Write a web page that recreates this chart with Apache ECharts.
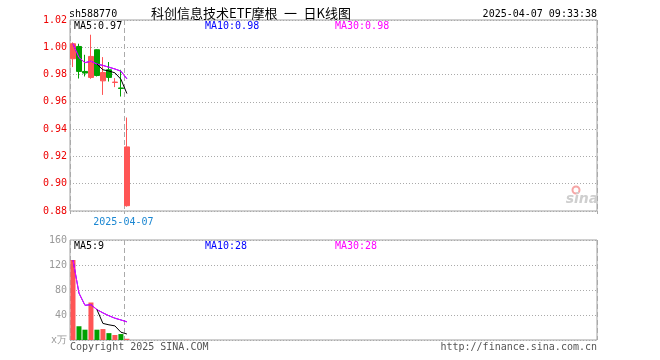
<!DOCTYPE html>
<html>
<head>
<meta charset="utf-8">
<script src="https://cdn.jsdelivr.net/npm/echarts@6/dist/echarts.min.js"></script>
<style>html,body{margin:0;padding:0;background:#fff;}#c{width:660px;height:360px;}</style>
</head>
<body>
<div id="c"></div>
<script>
// ---- data ----
const dates = ['2025-03-24','2025-03-25','2025-03-26','2025-03-27','2025-03-28','2025-03-31','2025-04-01','2025-04-02','2025-04-03','2025-04-07'];
const opens  = [0.9916, 1.0006, 0.9823, 0.9779, 0.9982, 0.9754, 0.9835, 0.9742, 0.9702, 0.8839];
const closes = [1.0026, 0.9823, 0.9811, 0.9933, 0.9793, 0.9815, 0.9779, 0.9745, 0.9698, 0.9270];
const lows   = [0.9855, 0.9771, 0.9786, 0.9769, 0.9786, 0.9651, 0.9749, 0.9708, 0.9639, 0.8832];
const highs  = [1.0036, 1.0026, 0.9945, 1.0092, 0.9985, 0.9928, 0.9892, 0.9774, 0.9835, 0.9485];
const volumes = [128, 22, 16.5, 60, 16.5, 17.5, 11, 8, 9.5, 2];
const priceMA5  = ['-','-','-','-',0.9877,0.9835,0.9826,0.9813,0.9766,0.9661];
const priceMA10 = [1.0026,0.9925,0.9887,0.9898,0.9877,0.9867,0.9854,0.9841,0.9825,0.9769];
const priceMA30 = [1.0026,0.9925,0.9887,0.9898,0.9877,0.9867,0.9854,0.9841,0.9825,0.9769];
const volMA5  = ['-','-','-','-',48.6,26.5,24.3,22.6,12.5,9.6];
const volMA10 = [128,75,55.5,56.6,48.6,43.4,38.8,34.9,32.1,29.1];
const volMA30 = [128,75,55.5,56.6,48.6,43.4,38.8,34.9,32.1,29.1];
const priceTicks = [0.88, 0.90, 0.92, 0.94, 0.96, 0.98, 1.00, 1.02];
const volTicks = [0, 40, 80, 120, 160];
const volZeroLabel = 'x万';
const markIndex = 9;
const totalSlots = 88;

// ---- build ----
const cats = dates.slice();
for (let i = dates.length; i < totalSlots; i++) cats.push('slot' + i);
const kData = dates.map((d, i) => [opens[i], closes[i], lows[i], highs[i]]);
const UP = '#ff5555', DOWN = '#00a000';
const volData = volumes.map((v, i) => ({value: v, itemStyle: {color: closes[i] >= opens[i] ? UP : DOWN}}));
const MONO = '"DejaVu Sans Mono", monospace';
const GRIDC = '#a0a0a0';
// boundary lines: index 0 and markIndex (index 0 falls on the grid border)
const boundaryInterval = (i) => i === 0 || i === markIndex;

function xAxisCfg(gi, showLabel) {
  return {
    type: 'category', gridIndex: gi, data: cats, boundaryGap: true,
    axisLine: {show: false},
    axisTick: {show: showLabel, interval: boundaryInterval, length: 3, lineStyle: {color: '#aaa'}},
    axisLabel: {show: showLabel, interval: (i) => i === markIndex, color: '#1b87d2', fontFamily: MONO, fontSize: 10, margin: 6, padding: [0, 7, 0, 0]},
    splitLine: {show: true, interval: boundaryInterval, lineStyle: {color: '#aaa', type: [5, 3], width: 1}}
  };
}

const option = {
  animation: false,
  backgroundColor: '#fff',
  grid: [
    {left: 70, right: 63, top: 20, height: 191, show: true, borderColor: GRIDC, borderWidth: 1},
    {left: 70, right: 63, top: 240, height: 100, show: true, borderColor: GRIDC, borderWidth: 1}
  ],
  xAxis: [xAxisCfg(0, true), xAxisCfg(1, false)],
  yAxis: [
    {type: 'value', gridIndex: 0, min: priceTicks[0], max: priceTicks[priceTicks.length-1], interval: 0.02,
     axisLine: {show: false}, axisTick: {show: false},
     axisLabel: {color: '#ee0000', fontFamily: MONO, fontSize: 10, margin: 3, formatter: v => v.toFixed(2)},
     splitLine: {show: true, lineStyle: {color: '#aaa', type: [1, 2]}}},
    {type: 'value', gridIndex: 1, min: volTicks[0], max: volTicks[volTicks.length-1], interval: 40,
     axisLine: {show: false}, axisTick: {show: false},
     axisLabel: {color: '#999', fontFamily: MONO, fontSize: 10, margin: 3, formatter: v => v === 0 ? volZeroLabel : String(v)},
     splitLine: {show: true, lineStyle: {color: '#aaa', type: [1, 2]}}}
  ],
  series: [
    {type: 'candlestick', xAxisIndex: 0, yAxisIndex: 0, data: kData, barWidth: 5,
     itemStyle: {color: UP, color0: DOWN, borderColor: UP, borderColor0: DOWN, borderWidth: 1}},
    {type: 'line', xAxisIndex: 0, yAxisIndex: 0, data: priceMA10, symbol: 'none', lineStyle: {color: '#0000ff', width: 1}},
    {type: 'line', xAxisIndex: 0, yAxisIndex: 0, data: priceMA30, symbol: 'none', lineStyle: {color: '#ff00ff', width: 1}},
    {type: 'line', xAxisIndex: 0, yAxisIndex: 0, data: priceMA5, symbol: 'none', lineStyle: {color: '#000', width: 1}},
    {type: 'bar', xAxisIndex: 1, yAxisIndex: 1, data: volData, barWidth: 5},
    {type: 'line', xAxisIndex: 1, yAxisIndex: 1, data: volMA10, symbol: 'none', lineStyle: {color: '#0000ff', width: 1}},
    {type: 'line', xAxisIndex: 1, yAxisIndex: 1, data: volMA30, symbol: 'none', lineStyle: {color: '#ff00ff', width: 1}},
    {type: 'line', xAxisIndex: 1, yAxisIndex: 1, data: volMA5, symbol: 'none', lineStyle: {color: '#000', width: 1}}
  ],
  graphic: [
    {type: 'text', x: 69, y: 14, style: {text: 'sh588770', font: '10px ' + MONO, fill: '#000', verticalAlign: 'middle'}},
    {type: 'text', x: 151, y: 13, style: {text: '科创信息技术ETF摩根\u2002一\u2002日K线图', font: '13px "Noto Sans CJK SC"', fill: '#000', verticalAlign: 'middle'}},
    {type: 'text', x: 597, y: 14, style: {text: '2025-04-07 09:33:38', font: '10px ' + MONO, fill: '#000', align: 'right', verticalAlign: 'middle'}},
    {type: 'text', x: 74, y: 26, style: {text: 'MA5:0.97', font: '10px ' + MONO, fill: '#000', verticalAlign: 'middle'}},
    {type: 'text', x: 205, y: 26, style: {text: 'MA10:0.98', font: '10px ' + MONO, fill: '#0000ff', verticalAlign: 'middle'}},
    {type: 'text', x: 335, y: 26, style: {text: 'MA30:0.98', font: '10px ' + MONO, fill: '#ff00ff', verticalAlign: 'middle'}},
    {type: 'text', x: 74, y: 246, style: {text: 'MA5:9', font: '10px ' + MONO, fill: '#000', verticalAlign: 'middle'}},
    {type: 'text', x: 205, y: 246, style: {text: 'MA10:28', font: '10px ' + MONO, fill: '#0000ff', verticalAlign: 'middle'}},
    {type: 'text', x: 335, y: 246, style: {text: 'MA30:28', font: '10px ' + MONO, fill: '#ff00ff', verticalAlign: 'middle'}},
    {type: 'text', x: 70, y: 347, style: {text: 'Copyright 2025 SINA.COM', font: '10px ' + MONO, fill: '#555', verticalAlign: 'middle'}},
    {type: 'text', x: 597, y: 347, style: {text: 'http://finance.sina.com.cn', font: '10px ' + MONO, fill: '#555', align: 'right', verticalAlign: 'middle'}},
    {type: 'circle', shape: {cx: 576, cy: 190, r: 3.5}, style: {fill: 'none', stroke: '#f6a5a5', lineWidth: 2}},
    {type: 'text', x: 582, y: 199, style: {text: 'sina', font: 'italic bold 14px "DejaVu Sans"', fill: '#cfcfcf', align: 'center', verticalAlign: 'middle'}}
  ]
};
const chart = echarts.init(document.getElementById('c'), null, {renderer: 'canvas'});
chart.setOption(option);
</script>
</body>
</html>
